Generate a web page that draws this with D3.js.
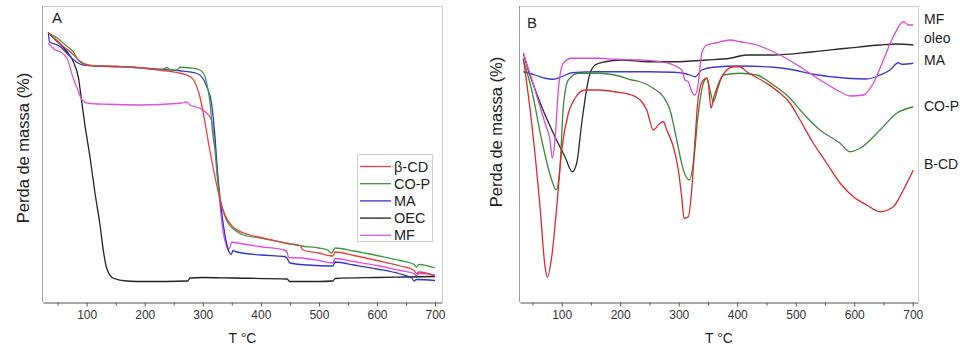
<!DOCTYPE html>
<html>
<head>
<meta charset="utf-8">
<script src="https://cdn.jsdelivr.net/npm/d3@7"></script>
<style>
  body { margin: 0; background: #fff; }
  text { font-family: "Liberation Sans", Arial, sans-serif; }
</style>
</head>
<body>
<svg id="chart" width="960" height="347"></svg>
<script>
// ---- data (T in °C, arbitrary mass / derivative units) ----
var majorTicks = [100, 200, 300, 400, 500, 600, 700];
var minorTicks = [50, 150, 250, 350, 450, 550, 650];

// panel A: TGA
var tgaBetaCD = [[34,99.6],[45,97.4],[60,94.2],[77,91],[90,87.8],[100,86.8],[111,86.5],[150,86.2],[192,85.7],[230,84.6],[261,83.5],[275,82.5],[284,80.8],[295,74.1],[304,63.5],[312,52.8],[318,45.5],[327,35.6],[335,28.8],[352,22],[381,18.8],[400,17.8],[445,15.4],[468,14.6],[472,12.8],[500,11.6],[524,10.4],[528,12],[560,10.6],[600,8.6],[640,6.4],[664,4.6],[668,3.4],[672,4],[700,2.4]];
var tgaCOP = [[34,99.6],[50,97.5],[65,94.5],[77,92.1],[85,89],[94,87.6],[111,86.5],[150,86.2],[192,85.7],[230,85],[238,85.8],[245,84.8],[255,84.8],[261,85.9],[280,85.6],[295,84.8],[304,82.1],[308,78],[312,72.8],[317,59.5],[321,52.8],[325,42],[330,33],[337,27],[345,23],[355,20.8],[370,18.8],[400,17.6],[445,15.5],[470,14.4],[500,13.6],[515,12.8],[522,11.6],[528,13.6],[560,12.4],[600,10.6],[640,8.6],[664,7],[668,6],[672,7],[700,5.6]];
var tgaMA = [[34,100],[36,96],[45,95.2],[55,94],[66,91.5],[77,89],[85,87.6],[94,86.8],[111,86.5],[150,86.2],[192,85.7],[230,85],[261,84.5],[289,83.5],[300,81.5],[307,78.1],[315,71.5],[321,58.1],[325,45],[330,33],[336,22],[342,14.5],[346,11.6],[349,11],[352,12.6],[356,12.2],[400,10.8],[440,10.2],[445,9.6],[450,7.6],[480,6.8],[524,6.4],[528,8],[560,6.8],[600,5.2],[640,3.2],[660,1.6],[664,0.4],[668,1],[700,0.6]];
var tgaOEC = [[34,99.6],[48,96.5],[66,92.1],[77,88.1],[86,81.5],[91.5,72.1],[97,62.8],[106,49.6],[114,36.1],[123,22.8],[129,12.1],[134.5,5.5],[146,1.5],[169,0.4],[200,0.2],[274,0.4],[278,1.6],[300,1.8],[350,1.6],[445,1.2],[450,0.2],[500,0.2],[524,0.4],[528,1.4],[600,1.8],[650,2],[700,2.2]];
var tgaMF = [[34,95.5],[45,93],[54,92.1],[66,89.5],[77,81.5],[86,76.1],[92,72.8],[103,71.5],[135,71.1],[192,70.8],[261,71.5],[272,72],[278,70.8],[295,69.5],[307,67.5],[315,64.8],[321,54.1],[325,44],[330,30],[335,20],[340,15],[344,13],[347,14],[350,16],[355,15.8],[400,14.1],[440,12.8],[445,12],[448,9.8],[470,9.6],[500,8.6],[524,7.6],[528,9.4],[560,8.2],[600,6.6],[640,4.6],[664,3.4],[668,2.6],[672,3.4],[700,2.8]];

// panel B: DTG
var dtgBCD = [[34.4,89.5],[48.7,63.5],[62.9,30.1],[71.5,6.1],[75.4,1.9],[82.9,10.1],[91.5,30.1],[100,52.8],[111.3,67.5],[122.7,73.5],[139.8,76.8],[162.6,76.8],[191.1,76.1],[219.7,74.8],[236.8,72.1],[245.3,68.8],[256.6,60.8],[268,63.5],[273.7,64.1],[279.5,60.8],[290.8,54.1],[299.3,44.8],[305.1,34.1],[309.1,25.5],[316.4,26.1],[322.2,36.8],[327.9,56.8],[333.5,74.1],[342.1,80.8],[347.9,81.5],[350.6,79.5],[355.2,69.5],[360.3,74.1],[370.6,80.8],[382.1,84.8],[393.3,86.1],[404.8,86.1],[416.2,84.1],[450.4,79.5],[473.2,75.5],[490.3,71.5],[507.4,64.8],[530.1,55.5],[553,47.5],[575.9,39.5],[598.5,34.1],[621.4,30.8],[644.1,28.1],[666.8,30.1],[683.9,36.8],[701,44.8]];
var dtgCOP = [[34.4,88.8],[48.7,76.8],[65.8,56.8],[82.9,40.8],[90.3,36.8],[97.1,46.1],[102.7,70.1],[111.3,80.8],[128.4,83.5],[162.6,83.5],[191.1,82.8],[219.7,80.8],[233.8,80.1],[256.6,77.5],[273.7,74.1],[285.1,68.8],[296.6,56.8],[307.9,44.8],[318.1,40.8],[325,47.5],[333.5,67.5],[342.1,79.5],[347.9,81.5],[353.5,76.8],[359.1,72.1],[367.7,78.1],[376.2,82.8],[404.8,83.5],[433.3,82.8],[461.7,78.8],[490.3,73.5],[507.4,68.8],[541.5,60.8],[575.9,55.5],[592.8,52.1],[609.9,53.5],[644.1,60.8],[672.6,67.5],[701,70.1]];
var dtgMA = [[34.4,84.1],[54.4,82.8],[71.5,81.5],[85.6,81.1],[100,82.1],[117.1,83.7],[162.6,84.1],[248,84.1],[290.8,83.9],[307.9,83.5],[319.3,82.8],[327.9,82.1],[339.3,84.8],[359.1,85.9],[404.8,86.4],[461.7,85.9],[490.3,85.1],[530.1,83.1],[587.2,81.5],[621.4,81.2],[644.1,82.8],[661.2,84.8],[675.4,87.7],[681.2,87.1],[701,87.5]];
var dtgOleo = [[34.4,91.5],[42.9,84.8],[65.8,70.1],[88.5,58.1],[105.6,50.1],[118.1,44.1],[125.6,47.5],[134.2,63.5],[145.5,80.8],[156.9,86.8],[174,88.1],[202.6,88.8],[248,88.1],[290.8,88.1],[347.9,88.8],[387.7,89.5],[416.2,90.8],[461.7,90.8],[530.1,92.1],[587.2,93.5],[644.1,94.8],[672.6,95.2],[701,94.8]];
var dtgMF = [[34.4,91.5],[54.4,76.8],[71.5,63.5],[80,56.8],[83.9,49.5],[88.5,56.8],[94.2,76.8],[102.7,87.5],[117.1,89.5],[162.6,89.5],[191.1,89.1],[233.8,88.8],[268,88.1],[290.8,86.8],[305.1,84.8],[310.8,80.8],[316.4,80.1],[322.2,76.1],[327.9,74.8],[333.5,79.5],[339.3,91.5],[347.9,94.8],[365,95.7],[387.7,96.8],[404.8,96.1],[433.3,94.8],[461.7,92.1],[473.2,90.8],[507.4,86.1],[541.5,80.8],[575.9,76.1],[592.8,74.4],[615.6,74.8],[632.6,79.5],[649.7,88.8],[666.8,98.1],[683.9,104.1],[692.5,102.8],[701,102.8]];

var legendLabels = ["\u03b2-CD", "CO-P", "MA", "OEC", "MF"];
var sideLabels = [["MF", 24], ["oleo", 43], ["MA", 65], ["CO-P", 111], ["B-CD", 169]];

var svg = d3.select("#chart");
var yDomain = [-8, 110.4];

function drawPanel(opt) {
  var x = d3.scaleLinear().domain(opt.xDomain).range([opt.left, opt.right]);
  var y = d3.scaleLinear().domain(yDomain).range([302, 6]);
  var g = svg.append("g");

  // frame
  g.append("line").attr("x1", opt.left).attr("x2", opt.right).attr("y1", 6.5).attr("y2", 6.5).attr("stroke", "#cfcfcf");
  g.append("line").attr("x1", opt.right + 0.5).attr("x2", opt.right + 0.5).attr("y1", 6).attr("y2", 302).attr("stroke", "#cfcfcf");
  g.append("line").attr("x1", opt.left - 0.5).attr("x2", opt.left - 0.5).attr("y1", 6).attr("y2", 302).attr("stroke", "#a0a0a0");

  var ax = g.append("g").attr("transform", "translate(0,302.5)")
    .call(d3.axisBottom(x).tickValues(majorTicks).tickSize(4).tickSizeOuter(0).tickPadding(4));
  ax.select(".domain").attr("stroke", "#555");
  ax.selectAll(".tick line").attr("stroke", "#555");
  ax.selectAll("text").attr("font-size", 12).attr("fill", "#333").attr("font-family", "Liberation Sans, Arial, sans-serif");
  var mx = g.append("g").attr("transform", "translate(0,302.5)")
    .call(d3.axisBottom(x).tickValues(minorTicks).tickSize(3).tickSizeOuter(0).tickFormat(""));
  mx.select(".domain").remove();
  mx.selectAll(".tick line").attr("stroke", "#555");

  var line = d3.line().x(function(d) { return x(d[0]); }).y(function(d) { return y(d[1]); }).curve(d3.curveMonotoneX);
  opt.series.forEach(function(s) {
    g.append("path").datum(s.data).attr("d", line).attr("fill", "none")
      .attr("stroke", s.color).attr("stroke-width", 1.3).attr("stroke-linejoin", "round");
  });

  g.append("text").attr("x", (opt.left + opt.right) / 2).attr("y", 343).attr("text-anchor", "middle")
    .attr("font-size", 14).attr("fill", "#222").text("T \u00b0C");
  g.append("text").attr("transform", "translate(" + opt.yTitleX + "," + opt.yTitleY + ") rotate(-90)")
    .attr("text-anchor", "middle").attr("font-size", 16.5).attr("fill", "#222").text("Perda de massa (%)");
  g.append("text").attr("x", opt.tagX).attr("y", opt.tagY).attr("font-size", 15).attr("fill", "#222").text(opt.tag);
  return g;
}

var colA = ["#e5413c", "#3e9a3e", "#3434c8", "#222222", "#e050e0"];
var gA = drawPanel({
  left: 43, right: 442, xDomain: [24.8, 712], tag: "A", tagX: 52, tagY: 23,
  yTitleX: 29, yTitleY: 148,
  series: [
    {data: tgaOEC, color: colA[3]},
    {data: tgaMF, color: colA[4]},
    {data: tgaMA, color: colA[2]},
    {data: tgaCOP, color: colA[1]},
    {data: tgaBetaCD, color: colA[0]}
  ]
});

// legend A
var leg = gA.append("g");
leg.append("rect").attr("x", 357.5).attr("y", 154.5).attr("width", 75).attr("height", 87)
  .attr("fill", "#fff").attr("stroke", "#cfcfcf");
legendLabels.forEach(function(lab, i) {
  var yy = 166.5 + i * 17.2;
  leg.append("line").attr("x1", 360).attr("x2", 391).attr("y1", yy).attr("y2", yy)
    .attr("stroke", colA[i]).attr("stroke-width", 1.3);
  leg.append("text").attr("x", 394).attr("y", yy + 5).attr("font-size", 14.5).attr("fill", "#222").text(lab);
});

var colB = ["#d62b2b", "#3a8a3a", "#3b3bcc", "#2b2b2b", "#d84ad8"];
var gB = drawPanel({
  left: 520, right: 918, xDomain: [28.7, 709], tag: "B", tagX: 527, tagY: 28,
  yTitleX: 502, yTitleY: 132,
  series: [
    {data: dtgOleo, color: colB[3]},
    {data: dtgMA, color: colB[2]},
    {data: dtgMF, color: colB[4]},
    {data: dtgCOP, color: colB[1]},
    {data: dtgBCD, color: colB[0]}
  ]
});

sideLabels.forEach(function(s) {
  gB.append("text").attr("x", 924).attr("y", s[1]).attr("font-size", 14).attr("fill", "#222").text(s[0]);
});
</script>
</body>
</html>
